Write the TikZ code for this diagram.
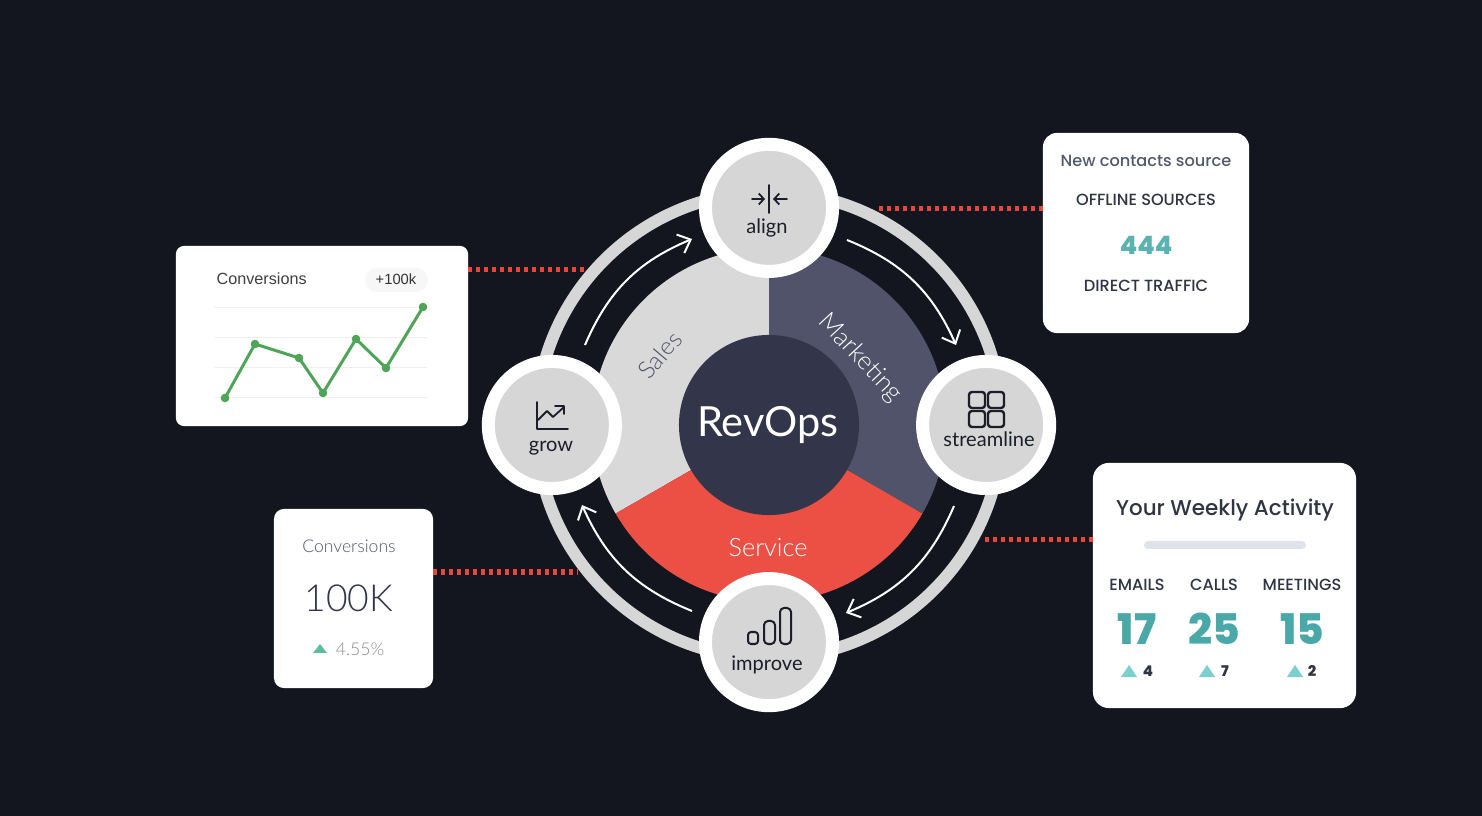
\documentclass[tikz,border=0pt]{standalone}
\usepackage{fontspec}
\setmainfont{Lato}
\newfontfamily\thinfont{Lato Light}
\newfontfamily\cardfont{Poppins Medium}
\newfontfamily\chartfont{Liberation Sans}
\usetikzlibrary{arrows.meta,positioning}
\definecolor{pagebg}{HTML}{13161F}
\definecolor{ringgrey}{HTML}{D6D6D6}
\definecolor{salesgrey}{HTML}{D9D9D9}
\definecolor{marketingslate}{HTML}{50536A}
\definecolor{servicered}{HTML}{EC5044}
\definecolor{hubnavy}{HTML}{33364A}
\definecolor{icondark}{HTML}{1B1D28}
\definecolor{dotred}{HTML}{E8453C}
\definecolor{inktext}{HTML}{2F3542}
\definecolor{softslate}{HTML}{505A6B}
\definecolor{tealnum}{HTML}{4AA8A8}
\definecolor{tealtri}{HTML}{7BCFCF}
\definecolor{minttri}{HTML}{5DBB9F}
\definecolor{barmist}{HTML}{DFE4EA}
\definecolor{greenline}{HTML}{4FA457}
\tikzset{
	stage/.style={circle,draw=white,fill=ringgrey,line width=0.13cm,minimum size=1.27cm,inner sep=0pt,outer sep=0pt},
	stagelabel/.style={anchor=base,text=icondark,font=\fontsize{5.7}{8}\selectfont,inner sep=0pt},
	icon/.style={draw=icondark,line width=0.018cm,line cap=round,line join=round},
	flow/.style={draw=white,line width=0.02cm,-{Straight Barb[length=0.11cm,width=0.2cm,line width=0.02cm]}},
	dotline/.style={draw=dotred,line width=0.05cm,dash pattern=on 0.04cm off 0.04cm},
	card/.style={rectangle,fill=white,inner sep=0pt,outer sep=0pt},
	cardtext/.style={inner sep=0pt,font=\cardfont\fontsize{4.6}{6}\selectfont,text=inktext},
}
\begin{document}
\begin{tikzpicture}[x=0.01cm,y=-0.01cm,on grid,node distance=2.17cm]
	\useasboundingbox (0,0) rectangle (1482,816);
	\fill[pagebg] (0,0) rectangle (1482,816);

	% centre and the four stages
	\coordinate (hubc) at (769,425);
	\coordinate (dotA) at (585,270);
	\coordinate (dotB) at (875,209);
	\coordinate (dotC) at (985,540);
	\coordinate (dotD) at (578,572);

	% cards
	\node[card,rounded corners=0.08cm,minimum width=2.92cm,minimum height=1.8cm] (chartcard) at (322,336) {};
	\node[card,rounded corners=0.14cm,minimum width=2.06cm,minimum height=2cm] (sourcecard) at (1146,233) {};
	\node[card,rounded corners=0.16cm,minimum width=2.63cm,minimum height=2.45cm] (weeklycard) at (1224.5,585.5) {};
	\node[card,rounded corners=0.1cm,minimum width=1.59cm,minimum height=1.79cm] (totalcard) at (353.5,598.5) {};

	\draw[dotline] (chartcard.east |- dotA) -- (dotA);
	\draw[dotline] (sourcecard.west |- dotB) -- (dotB);
	\draw[dotline] (weeklycard.west |- dotC) -- (dotC);
	\draw[dotline] (totalcard.east |- dotD) -- (dotD);

	\node[circle,draw=ringgrey,line width=0.12cm,minimum size=4.66cm,inner sep=0pt,outer sep=0pt] (ring) at (hubc) {};

	% sectors, angles read counter clockwise
	\begin{scope}[shift={(hubc)},x=1cm,y=1cm]
		\fill[salesgrey] (0,0) -- (90:1.77) arc[start angle=90,end angle=210,radius=1.77] -- cycle;
		\fill[marketingslate] (0,0) -- (90:1.77) arc[start angle=90,end angle=-30,radius=1.77] -- cycle;
		\fill[servicered] (0,0) -- (210:1.77) arc[start angle=210,end angle=330,radius=1.77] -- cycle;
	\end{scope}

	\node[circle,fill=hubnavy,minimum size=1.8cm,inner sep=0pt] (hub) at (hubc) {};
	\node[anchor=base,text=white,inner sep=0pt,font=\fontsize{11.8}{14}\selectfont] (revops) at (768,437) {RevOps};
	\node[text=marketingslate,inner sep=0pt,rotate=50,font=\thinfont\fontsize{6.9}{8}\selectfont] (sales) at (660,355) {Sales};
	\node[text=white,inner sep=0pt,rotate=-47,font=\thinfont\fontsize{7.2}{8}\selectfont] (marketing) at (860,358) {Marketing};
	\node[text=white,inner sep=0pt,font=\thinfont\fontsize{7.2}{8}\selectfont] (service) at (768,548) {Service};

	\node[stage] (alignc) [above=of hub] {};
	\node[stage] (streamc) [right=of hub] {};
	\node[stage] (improvec) [below=of hub] {};
	\node[stage] (growc) [left=of hub] {};

	\node[stagelabel] (alignl) at (767,234) {align};
	\node[stagelabel] (streaml) at (989,447) {streamline};
	\node[stagelabel] (improvel) at (767,671) {improve};
	\node[stagelabel] (growl) at (551,452) {grow};

	% arrows between the stages
	\coordinate (flowA) at (585,345);
	\coordinate (flowB) at (692,239);
	\coordinate (flowC) at (847,240);
	\coordinate (flowD) at (956,345);
	\coordinate (flowE) at (954,506);
	\coordinate (flowF) at (846,613);
	\coordinate (flowG) at (692,611);
	\coordinate (flowH) at (582,505);
	\draw[flow] (flowA) to[bend left=22] (flowB);
	\draw[flow] (flowC) to[bend left=22] (flowD);
	\draw[flow] (flowE) to[bend left=22] (flowF);
	\draw[flow] (flowG) to[bend left=22] (flowH);

	% icons
	\draw[icon] (769,185) -- (769,213);
	\draw[icon,-{Straight Barb[length=0.05cm,width=0.11cm,line width=0.018cm]}] (752,199) -- (765,199);
	\draw[icon,-{Straight Barb[length=0.05cm,width=0.11cm,line width=0.018cm]}] (787,199) -- (773,199);
	\draw[icon] (537,402) -- (537,429) -- (568,429);
	\draw[icon] (538,420) -- (547,411) -- (553,417) -- (564,407);
	\draw[icon] (555,406) -- (564,406) -- (564,414);
	\foreach \sx in {969,988}
		\foreach \sy in {392,411}
			\draw[icon,line width=0.024cm,rounded corners=0.03cm] (\sx,\sy) rectangle ++(16,16);
	\draw[icon,line width=0.02cm,rounded corners=0.03cm] (748,632) rectangle (758,644);
	\draw[icon,line width=0.02cm,rounded corners=0.04cm] (764,621) rectangle (775,644);
	\draw[icon,line width=0.02cm,rounded corners=0.04cm] (780,608) rectangle (791,644);

	% chart card
	\node[inner sep=0pt,anchor=west,text=black!75,font=\chartfont\fontsize{4.6}{6}\selectfont] (charttitle) at (216,279) {Conversions};
	\fill[black!3,rounded corners=0.12cm] (365,268) rectangle (428,292);
	\node[inner sep=0pt,text=black!80,font=\chartfont\fontsize{4.2}{6}\selectfont] (chartpill) at (396,279) {+100k};
	\foreach \gy in {307,337,367,397}
		\draw[black!6,line width=0.006cm] (214,\gy) -- (427,\gy);
	\draw[greenline,line width=0.03cm] (225,398) -- (255,344) -- (299,358) -- (323,393) -- (356,339) -- (386,368) -- (423,307);
	\foreach \px/\py in {225/398,255/344,299/358,323/393,356/339,386/368,423/307}
		\fill[greenline] (\px,\py) circle[radius=4.3];

	% source card
	\node[cardtext,text=softslate,font=\cardfont\fontsize{4.6}{6}\selectfont] (sourcetitle) at (1146,161) {New contacts source};
	\node[cardtext] (offline) at (1146,200) {OFFLINE SOURCES};
	\node[cardtext,text=tealnum!90,font=\cardfont\bfseries\fontsize{7.2}{9}\selectfont] (fourfours) at (1146,245) {444};
	\node[cardtext] (direct) at (1146,286) {DIRECT TRAFFIC};

	% weekly card
	\node[cardtext,font=\cardfont\fontsize{6.1}{8}\selectfont] (weeklytitle) at (1225,510) {Your Weekly Activity};
	\fill[barmist,rounded corners=0.04cm] (1144,541) rectangle (1306,549);
	\foreach \cx/\lbl/\colval/\trix/\delx/\delval in {1137/EMAILS/17/1129/1148/4,1214/CALLS/25/1207/1225/7,1302/MEETINGS/15/1295/1312/2}{
		\node[cardtext] (lbl\colval) at (\cx,585) {\lbl};
		\node[cardtext,text=tealnum,font=\cardfont\bfseries\fontsize{12}{14}\selectfont] (val\colval) at (\cx,629) {\colval};
		\fill[tealtri] (\trix-8,677) -- (\trix+8,677) -- (\trix,665) -- cycle;
		\node[cardtext,font=\cardfont\bfseries\fontsize{4.2}{6}\selectfont] (del\colval) at (\delx,671) {\delval};
	}

	% total card
	\node[inner sep=0pt,text=softslate,font=\thinfont\fontsize{5}{6}\selectfont] (totaltitle) at (349,546) {Conversions};
	\node[inner sep=0pt,text=hubnavy,font=\thinfont\fontsize{10.6}{13}\selectfont] (totalnum) at (349,598) {100K};
	\fill[minttri] (313,653) -- (327,653) -- (320,644) -- cycle;
	\node[inner sep=0pt,text=black!45,font=\thinfont\fontsize{5}{6}\selectfont] (totalpct) at (360,649) {4.55\%};
\end{tikzpicture}
\end{document}
